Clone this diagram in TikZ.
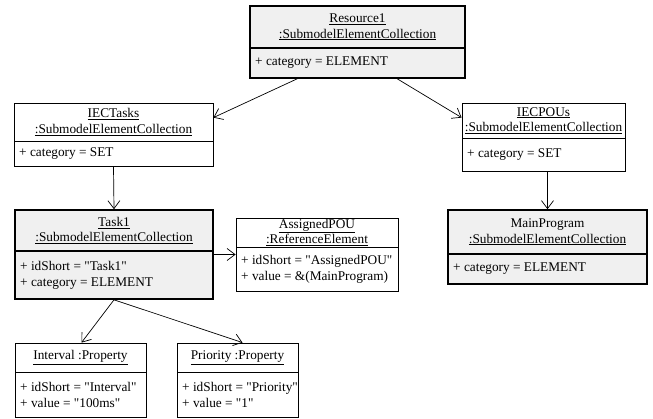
\documentclass[tikz,border=0pt]{standalone}
\usepackage{fontspec}
\setmainfont{Liberation Serif}[Ligatures=TeXOff]
\usetikzlibrary{arrows.meta,calc}
\definecolor{boxgray}{RGB}{240,240,240}

% straight double quote
\newcommand\qq{\symbol{34}}

% \umlobj{name}{style}{x1}{y1}{x2}{y2}{divider y}{title}{attributes}
\newcommand\umlobj[9]{%
  \node[#2, minimum width={#5-#3}, minimum height={#6-#4}] (#1)
    at ({(#3+#5)/2},{(#4+#6)/2}) {};
  \draw[#2, fill=none] (#3,#7) -- (#5,#7);
  \node[titletext] (#1-title) at ({(#3+#5)/2},{(#4+#7)/2}) {#8};
  \node[attrtext] (#1-attrs) at ({#3+5},{(#7+#6)/2}) {#9};
}

\tikzset{
  objbox/.style={draw, rectangle, line width=0.8pt, fill=white, inner sep=0pt},
  keybox/.style={objbox, line width=1.6pt, fill=boxgray},
  titletext/.style={align=center, inner sep=0pt, font=\fontsize{13.3}{15.5}\selectfont},
  attrtext/.style={align=left, anchor=west, inner sep=0pt, font=\fontsize{13.3}{16}\selectfont},
  link/.style={draw, line width=0.7pt, -{Straight Barb[length=8pt,width=12pt]}}
}

\begin{document}
\begin{tikzpicture}[x=1pt,y=-1pt]
\useasboundingbox (0,0) rectangle (653,418);

\umlobj{res}{keybox}{250}{6}{465}{78}{48}
  {\underline{Resource1}\\\underline{:SubmodelElementCollection}}
  {+ category = ELEMENT}

\umlobj{tasks}{objbox}{14}{103}{213}{166}{141}
  {\underline{IECTasks}\\\underline{:SubmodelElementCollection}}
  {+ category = SET}

\umlobj{pous}{objbox}{462}{103}{625}{171}{138}
  {\underline{IECPOUs}\\\underline{:SubmodelElementCollection}}
  {+ category = SET}

\umlobj{main}{keybox}{448}{210}{647}{284}{254}
  {MainProgram\\\underline{:SubmodelElementCollection}}
  {+ category = ELEMENT}

\umlobj{task}{keybox}{15}{210}{213}{299}{251}
  {\underline{Task1}\\\underline{:SubmodelElementCollection}}
  {+ idShort = \qq Task1\qq\\+ category = ELEMENT}

\umlobj{pou}{objbox}{236}{218}{398}{291}{247}
  {\underline{AssignedPOU}\\\underline{:ReferenceElement}}
  {+ idShort = \qq AssignedPOU\qq\\+ value = \&(MainProgram)}

\umlobj{intv}{objbox}{15}{343}{146}{417}{372}
  {\underline{Interval :Property}}
  {+ idShort = \qq Interval\qq\\+ value = \qq 100ms\qq}

\umlobj{prio}{objbox}{177}{343}{298}{417}{372}
  {\underline{Priority :Property}}
  {+ idShort = \qq Priority\qq\\+ value = \qq 1\qq}

% connectors
\draw[link] ($(res.south west)+(48,0)$) -- ($(tasks.north east)+(0,15)$);
\draw[link] ($(res.south west)+(148,0)$) -- ($(pous.north west)+(0,15)$);
\draw[link] (tasks.south) -- (task.north);
\draw[link] (main.north |- pous.south) -- (main.north);
\draw[link] (task.east |- pou.west) -- (pou.west);
\draw[link] (task.south) -- ($(intv.north)+(1,0)$);
\draw[link] (task.south) -- ($(prio.north)+(5,0)$);
\end{tikzpicture}
\end{document}
